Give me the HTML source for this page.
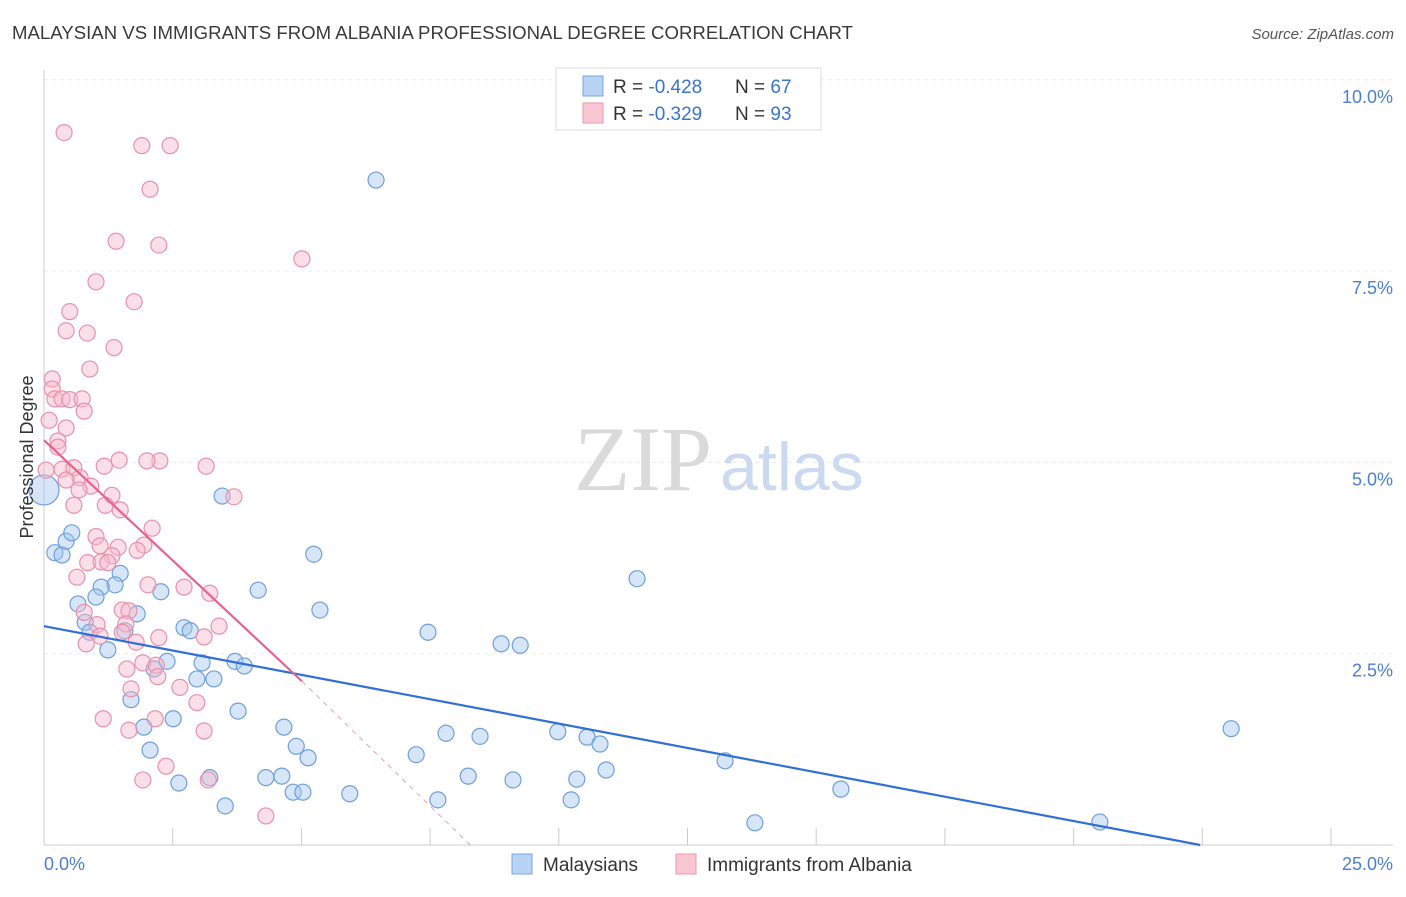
<!DOCTYPE html>
<html><head><meta charset="utf-8"><style>
body{margin:0;background:#fff;font-family:"Liberation Sans",sans-serif}
svg text{font-family:"Liberation Sans",sans-serif}
</style></head><body>
<svg width="1406" height="892" viewBox="0 0 1406 892">
<text x="12" y="39" font-size="18.6" fill="#3a3a3a" textLength="841">MALAYSIAN VS IMMIGRANTS FROM ALBANIA PROFESSIONAL DEGREE CORRELATION CHART</text>
<text x="1394" y="39" font-size="15" fill="#555" font-style="italic" text-anchor="end">Source: ZipAtlas.com</text>
<g id="grid"></g>
<text x="712" y="490" font-size="92" fill="#dadada" text-anchor="end" style="font-family:'Liberation Serif',serif">ZIP</text>
<text x="720" y="490" font-size="68" fill="#cbdaf0">atlas</text>
<line x1="44" y1="70" x2="44" y2="845" stroke="#ccc"/>
<line x1="44" y1="845" x2="1393" y2="845" stroke="#ccc"/>
<g id="ticks"></g>
<g id="pts"></g>
<g id="lines"></g>
<text x="33" y="457" font-size="18" fill="#333" text-anchor="middle" transform="rotate(-90 33 457)">Professional Degree</text>
<text x="44" y="870" font-size="18" fill="#4a7fd4">0.0%</text>
<text x="1393" y="870" font-size="18" fill="#4a7fd4" text-anchor="end">25.0%</text>
<g>
<rect x="556" y="68" width="265" height="62" fill="#fff" stroke="#ddd"/>
<rect x="583" y="76" width="20" height="20" fill="#b9d3f5" stroke="#7aa6e0"/>
<rect x="583" y="103" width="20" height="20" fill="#f9c6d4" stroke="#eb97b0"/>
<text x="613" y="93" font-size="19" fill="#333">R = <tspan fill="#3b73d1">-0.428</tspan></text>
<text x="735" y="93" font-size="19" fill="#333">N = <tspan fill="#3b73d1">67</tspan></text>
<text x="613" y="120" font-size="19" fill="#333">R = <tspan fill="#3b73d1">-0.329</tspan></text>
<text x="735" y="120" font-size="19" fill="#333">N = <tspan fill="#3b73d1">93</tspan></text>
</g>
<g>
<rect x="512" y="854" width="20" height="20" fill="#b9d3f5" stroke="#7aa6e0"/>
<text x="543" y="871" font-size="19" fill="#333">Malaysians</text>
<rect x="676" y="854" width="20" height="20" fill="#f9c6d4" stroke="#eb97b0"/>
<text x="707" y="871" font-size="19" fill="#333">Immigrants from Albania</text>
</g>
</svg>
<script>
const yTicks=[2.5,5.0,7.5,10.0];
const yTickLabels=["2.5%","5.0%","7.5%","10.0%"];
const xTicks=[0,2.5,5,7.5,10,12.5,15,17.5,20,22.5,25];
const blueX=[6.45,3.46,0,0.21,0.35,0.43,0.54,5.24,11.52,4.16,1.48,1.38,1.11,1.01,0.66,2.27,1.81,5.36,0.80,0.89,1.57,2.72,2.84,7.46,8.88,9.25,1.24,2.39,2.14,3.07,3.71,3.89,2.97,3.30,3.77,1.69,2.51,1.94,4.66,7.81,8.47,9.98,10.55,10.80,23.06,4.90,5.13,2.06,7.23,13.23,10.92,8.24,9.11,10.35,4.31,4.62,3.22,2.62,15.48,4.84,5.03,5.94,7.65,10.24,3.52,13.81,20.51];
const blueY=[8.69,4.56,4.64,3.82,3.79,3.97,4.08,3.80,3.48,3.33,3.55,3.40,3.37,3.24,3.15,3.31,3.02,3.07,2.91,2.78,2.80,2.84,2.80,2.78,2.63,2.61,2.55,2.40,2.30,2.38,2.40,2.34,2.17,2.17,1.75,1.90,1.65,1.54,1.54,1.46,1.42,1.48,1.41,1.32,1.52,1.29,1.14,1.24,1.18,1.10,0.98,0.90,0.85,0.86,0.88,0.90,0.88,0.81,0.73,0.69,0.69,0.67,0.59,0.59,0.51,0.29,0.30];
const pinkX=[0.39,1.90,2.45,2.06,1.40,2.23,5.01,1.01,1.75,0.50,0.43,0.84,1.36,0.89,0.16,0.16,0.21,0.35,0.50,0.74,0.78,0.10,0.43,0.27,0.27,1.46,2.25,2.00,3.15,1.17,0.04,0.35,0.58,0.70,0.43,0.91,0.68,1.32,3.69,0.58,1.19,1.48,2.10,1.01,1.09,1.94,1.44,1.81,1.32,0.85,1.11,1.24,0.64,2.02,2.72,3.22,0.78,1.52,1.65,1.03,1.59,3.40,1.09,1.52,3.11,1.79,2.23,0.82,1.92,2.18,1.61,2.21,2.64,1.69,2.97,1.15,2.16,1.65,3.11,2.37,1.92,3.19,4.31];
const pinkY=[9.31,9.14,9.14,8.57,7.89,7.84,7.66,7.36,7.10,6.97,6.72,6.69,6.50,6.22,6.09,5.96,5.83,5.83,5.82,5.83,5.67,5.55,5.45,5.28,5.20,5.03,5.02,5.02,4.95,4.95,4.90,4.91,4.93,4.80,4.77,4.69,4.64,4.57,4.55,4.44,4.44,4.38,4.14,4.03,3.91,3.92,3.89,3.85,3.78,3.69,3.70,3.69,3.50,3.40,3.37,3.29,3.04,3.07,3.06,2.88,2.89,2.86,2.73,2.78,2.72,2.65,2.71,2.63,2.38,2.35,2.30,2.20,2.06,2.04,1.86,1.65,1.65,1.50,1.49,1.03,0.85,0.85,0.38];
const blueTrend=[[0,2.86],[22.46,0]];
const pinkTrend=[[0,5.29],[5.01,2.14]];
const pinkDash=[[5.01,2.14],[8.28,0]];
const X=v=>44+v/2.5*128.7, Y=v=>845-v/2.5*191.3;
const NS="http://www.w3.org/2000/svg";
function mk(t,a,p){const e=document.createElementNS(NS,t);for(const k in a)e.setAttribute(k,a[k]);p.appendChild(e);return e;}
const grid=document.getElementById('grid');
yTicks.forEach((t,i)=>{
 const l=mk('line',{x1:44,x2:1393,y1:Y(t),y2:Y(t),stroke:'#ebebeb','stroke-dasharray':'4,4'},grid);
 
 
 const tx=mk('text',{x:1393,y:Y(t)+23,'font-size':18,fill:'#4a7fd4','text-anchor':'end'},grid);
 tx.textContent=yTickLabels[i];
 
 
});
const tg=document.getElementById('ticks');
xTicks.forEach(t=>{const l=mk('line',{x1:X(t),x2:X(t),y1:828,y2:845,stroke:'#ccc'},tg);
 
 });
const pg=document.getElementById('pts');
blueX.forEach((x,i)=>{const c=mk('circle',{cx:X(x),cy:Y(blueY[i]),r:(i==2?15:8),fill:'rgba(165,198,240,0.45)',stroke:'#6f9fdc','stroke-width':1.2},pg);
 
 });
pinkX.forEach((x,i)=>{const c=mk('circle',{cx:X(x),cy:Y(pinkY[i]),r:8,fill:'rgba(247,184,204,0.45)',stroke:'#e991ac','stroke-width':1.2},pg);
 
 });
const lg=document.getElementById('lines');
let l1=mk('line',{x1:X(blueTrend[0][0]),y1:Y(blueTrend[0][1]),x2:X(blueTrend[1][0]),y2:Y(blueTrend[1][1]),stroke:'#2f6fd6','stroke-width':2.2},lg);


let l2=mk('line',{x1:X(pinkTrend[0][0]),y1:Y(pinkTrend[0][1]),x2:X(pinkTrend[1][0]),y2:Y(pinkTrend[1][1]),stroke:'#e8628f','stroke-width':2.2},lg);


let l3=mk('line',{x1:X(pinkDash[0][0]),y1:Y(pinkDash[0][1]),x2:X(pinkDash[1][0]),y2:Y(pinkDash[1][1]),stroke:'#eaa0b8','stroke-width':1,'stroke-dasharray':'5,5'},lg);


</script>
</body></html>
